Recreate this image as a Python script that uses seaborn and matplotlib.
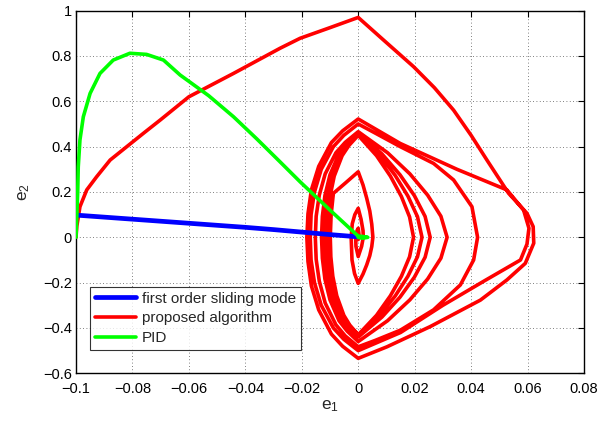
import numpy as np
import pandas as pd
import matplotlib
matplotlib.use("Agg")
import matplotlib.pyplot as plt
import seaborn as sns

# phase-plane trajectories (e1, e2)
smc_e1 = [-0.1, -0.09, -0.08, -0.07, -0.06, -0.05, -0.04, -0.03, -0.02, -0.01, -0.003, 0.0]
smc_e2 = [0.098, 0.089, 0.080, 0.071, 0.062, 0.053, 0.044, 0.034, 0.023, 0.012, 0.005, 0.002]

pid_e1 = [-0.1, -0.0997, -0.0994, -0.0992, -0.0986, -0.0974, -0.095, -0.0915, -0.0868, -0.0809,
          -0.075, -0.069, -0.0631, -0.0530, -0.0442, -0.036, -0.0277, -0.0206, -0.010,
          0.0, 0.0015, 0.0034, 0.0015, 0.0]
pid_e2 = [0.0, 0.10, 0.20, 0.311, 0.43, 0.532, 0.635, 0.723, 0.782, 0.812,
          0.807, 0.782, 0.716, 0.625, 0.532, 0.435, 0.333, 0.245, 0.12,
          0.005, 0.004, 0.0, -0.004, 0.0]

# proposed algorithm: spiral converging to the origin (half-loops in order)
red_e1 = [
    # approach
    -0.1, -0.0997, -0.0986, -0.0962, -0.0927, -0.0879, -0.082, -0.0761, -0.0702, -0.060,
    -0.0442, -0.0277, -0.0206, -0.010,
    # loop 1
    0.0, 0.009, 0.0196, 0.027, 0.0338, 0.040, 0.0456, 0.0533, 0.0598, 0.062, 0.0622, 0.0592,
    0.0527, 0.0433, 0.0255, 0.0102,
    0.0, -0.0055, -0.0095, -0.014, -0.0166, -0.0178, -0.0182, -0.0178, -0.0166, -0.014, -0.0095, -0.0055,
    # loop 2
    0.0, 0.0149, 0.035, 0.0527, 0.0586, 0.0605, 0.0598, 0.0575, 0.045, 0.030, 0.015,
    0.0, -0.0051, -0.0088, -0.0131, -0.0155, -0.0167, -0.017, -0.0167, -0.0155, -0.0131, -0.0088, -0.0051,
    # loop 3
    0.0, 0.006, 0.0149, 0.0267, 0.0338, 0.0403, 0.0423, 0.0409, 0.0362, 0.0267, 0.0149, 0.006,
    0.0, -0.0046, -0.0079, -0.0117, -0.0138, -0.0149, -0.0152, -0.0149, -0.0138, -0.0117, -0.0079, -0.0046,
    # loop 4
    0.0, 0.0104, 0.0183, 0.0246, 0.0293, 0.0315, 0.0293, 0.0246, 0.0183, 0.0104,
    0.0, -0.0039, -0.0068, -0.010, -0.0118, -0.0127, -0.013, -0.0127, -0.0118, -0.010, -0.0068, -0.0039,
    # loop 5
    0.0, 0.0084, 0.0148, 0.0199, 0.0237, 0.0255, 0.0237, 0.0199, 0.0148, 0.0084,
    0.0, -0.0036, -0.0062, -0.0092, -0.0109, -0.0118, -0.012, -0.0118, -0.0109, -0.0092, -0.0062, -0.0036,
    # loop 6
    0.0, 0.0075, 0.0131, 0.0176, 0.021, 0.0226, 0.021, 0.0176, 0.0131, 0.0075,
    0.0, -0.0033, -0.0057, -0.0085, -0.010, -0.0108, -0.011, -0.0108, -0.010, -0.0085, -0.0057, -0.0033,
    # loop 7
    0.0, 0.0065, 0.0114, 0.0153, 0.0182, 0.0196, 0.0182, 0.0153, 0.0114, 0.0065,
    0.0, -0.003, -0.0051, -0.0076, -0.009, -0.0097, -0.0099, -0.0096, -0.0088, -0.0045,
    # loop 8
    0.0, 0.0017, 0.003, 0.0041, 0.0048, 0.0052, 0.0048, 0.0041, 0.003, 0.0017,
    0.0, -0.0013, -0.0022, -0.0025, -0.0021, -0.0012,
    # loop 9
    0.0, 0.001, 0.0017, 0.0018, 0.0012,
    0.0, -0.0008, -0.0009, -0.0004, 0.0, 0.0004, 0.0,
]
red_e2 = [
    0.0, 0.05, 0.135, 0.209, 0.267, 0.341, 0.40, 0.459, 0.517, 0.62,
    0.723, 0.834, 0.878, 0.925,
    0.97, 0.87, 0.753, 0.66, 0.561, 0.45, 0.341, 0.194, 0.106, 0.047, -0.026, -0.115,
    -0.188, -0.277, -0.394, -0.483,
    -0.534, -0.481, -0.427, -0.320, -0.214, -0.107, 0.0, 0.104, 0.209, 0.313, 0.418, 0.470,
    0.522, 0.414, 0.30, 0.209, 0.12, 0.04, -0.03, -0.10, -0.19, -0.30, -0.42,
    -0.50, -0.45, -0.40, -0.30, -0.20, -0.10, 0.0, 0.10, 0.20, 0.30, 0.40, 0.45,
    0.50, 0.46, 0.40, 0.326, 0.253, 0.135, 0.0, -0.10, -0.21, -0.32, -0.41, -0.455,
    -0.483, -0.435, -0.386, -0.29, -0.193, -0.097, 0.0, 0.093, 0.186, 0.28, 0.373, 0.419,
    0.466, 0.373, 0.28, 0.186, 0.093, 0.0, -0.092, -0.184, -0.276, -0.368,
    -0.46, -0.414, -0.368, -0.276, -0.184, -0.092, 0.0, 0.092, 0.184, 0.276, 0.368, 0.414,
    0.46, 0.368, 0.276, 0.184, 0.092, 0.0, -0.088, -0.176, -0.264, -0.352,
    -0.44, -0.396, -0.352, -0.264, -0.176, -0.088, 0.0, 0.091, 0.182, 0.273, 0.364, 0.41,
    0.455, 0.364, 0.273, 0.182, 0.091, 0.0, -0.086, -0.172, -0.259, -0.345,
    -0.431, -0.388, -0.345, -0.259, -0.172, -0.086, 0.0, 0.09, 0.18, 0.27, 0.36, 0.405,
    0.45, 0.36, 0.27, 0.18, 0.09, 0.0, -0.086, -0.172, -0.258, -0.344,
    -0.43, -0.387, -0.344, -0.258, -0.172, -0.086, 0.0, 0.10, 0.194, 0.24,
    0.289, 0.231, 0.173, 0.116, 0.058, 0.0, -0.041, -0.081, -0.122, -0.162,
    -0.203, -0.16, -0.10, 0.0, 0.06, 0.10,
    0.128, 0.08, 0.03, 0.0, -0.04,
    -0.085, -0.04, 0.0, 0.03, 0.04, 0.0, -0.01,
]

x_ticks = [-0.1, -0.08, -0.06, -0.04, -0.02, 0, 0.02, 0.04, 0.06, 0.08]
x_labels = ['\u22120.1', '\u22120.08', '\u22120.06', '\u22120.04', '\u22120.02', '0', '0.02', '0.04', '0.06', '0.08']
y_ticks = [-0.6, -0.4, -0.2, 0, 0.2, 0.4, 0.6, 0.8, 1]
y_labels = ['\u22120.6', '\u22120.4', '\u22120.2', '0', '0.2', '0.4', '0.6', '0.8', '1']

sns.set_style("white")
plt.rcParams['font.family'] = ['Liberation Sans', 'DejaVu Sans']

fig = plt.figure(figsize=(6.08, 4.26), dpi=100)
ax = fig.add_axes([0.125, 0.1237, 0.8355, 0.8513])

sns.lineplot(x=red_e1, y=red_e2, sort=False, estimator=None, color='#ff0000',
             linewidth=2.6, ax=ax, zorder=2, label='proposed algorithm')
sns.lineplot(x=smc_e1, y=smc_e2, sort=False, estimator=None, color='#0000ff',
             linewidth=3.4, ax=ax, zorder=3, label='first order sliding mode')
sns.lineplot(x=pid_e1, y=pid_e2, sort=False, estimator=None, color='#00ff00',
             linewidth=2.6, ax=ax, zorder=4, label='PID')

ax.set_xlim(-0.1, 0.08)
ax.set_ylim(-0.6, 1.0)
ax.set_xticks(x_ticks)
ax.set_xticklabels(x_labels)
ax.set_yticks(y_ticks)
ax.set_yticklabels(y_labels)
ax.tick_params(direction='in', top=True, right=True, length=4, width=0.8,
               labelsize=10.5, colors='black', pad=3)
ax.tick_params(axis='x', pad=6)
ax.grid(True, linestyle=(0, (1, 3)), color='#555555', linewidth=0.6)
for s in ax.spines.values():
    s.set_color('black')
    s.set_linewidth(1.0)

ax.set_xlabel(r'$\mathregular{e_1}$', fontsize=12.5, labelpad=2)
ax.set_ylabel(r'$\mathregular{e_2}$', fontsize=12.5, labelpad=8)

handles, labels = ax.get_legend_handles_labels()
order = [1, 0, 2]
leg = ax.legend([handles[i] for i in order], [labels[i] for i in order],
                loc='lower left', bbox_to_anchor=(0.028, 0.064), fontsize=11,
                frameon=True, fancybox=False, borderaxespad=0, handlelength=2.7,
                labelspacing=0.38, borderpad=0.32, handletextpad=0.35)
leg.get_frame().set_edgecolor('black')
leg.get_frame().set_linewidth(0.8)

fig.savefig('out.png', dpi=100)
